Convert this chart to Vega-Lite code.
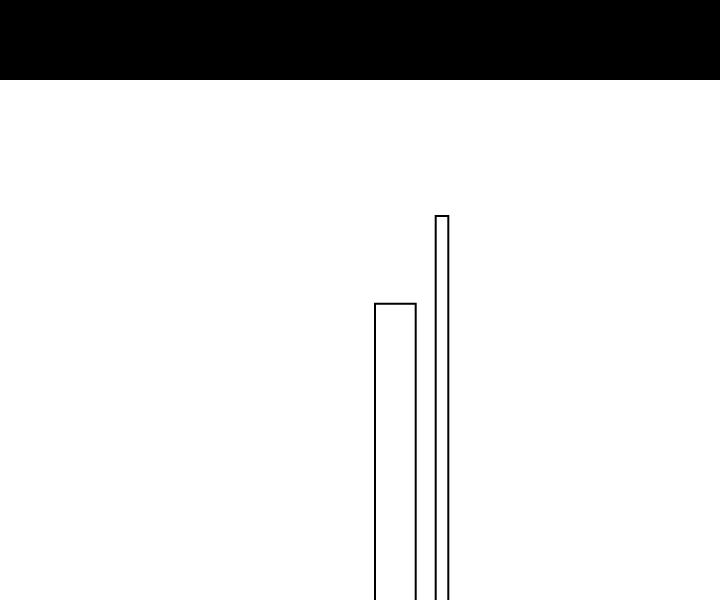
{
  "$schema": "https://vega.github.io/schema/vega-lite/v6.json",
  "autosize": {"type": "fit", "contains": "padding"},
  "width": 720,
  "height": 600,
  "padding": 0,
  "background": "white",
  "config": {"view": {"stroke": null}},
  "layer": [
    {
      "data": {"values": [{"name": "band", "x0": 0, "x1": 720, "y0": 520, "y1": 605}]},
      "mark": {"type": "rect", "color": "black", "clip": true},
      "encoding": {
        "x": {"field": "x0", "type": "quantitative", "scale": {"domain": [0, 720], "nice": false, "zero": false}, "axis": null},
        "x2": {"field": "x1"},
        "y": {"field": "y0", "type": "quantitative", "scale": {"domain": [0, 600], "nice": false, "zero": false}, "axis": null},
        "y2": {"field": "y1"}
      }
    },
    {
      "data": {"values": [
        {"name": "A", "x0": 375, "x1": 415.7, "y0": -10, "y1": 296.3},
        {"name": "B", "x0": 435.7, "x1": 448.3, "y0": -10, "y1": 384}
      ]},
      "mark": {"type": "rect", "fill": "white", "stroke": "black", "strokeWidth": 2, "clip": true},
      "encoding": {
        "x": {"field": "x0", "type": "quantitative", "scale": {"domain": [0, 720], "nice": false, "zero": false}, "axis": null},
        "x2": {"field": "x1"},
        "y": {"field": "y0", "type": "quantitative", "scale": {"domain": [0, 600], "nice": false, "zero": false}, "axis": null},
        "y2": {"field": "y1"}
      }
    }
  ]
}
